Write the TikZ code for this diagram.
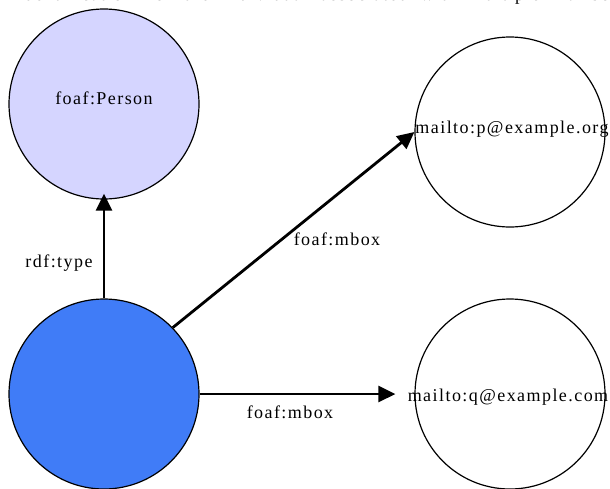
\documentclass[tikz,border=0pt]{standalone}
\usepackage{fontspec}
\setmainfont{Liberation Serif}[LetterSpace=8]
\usetikzlibrary{arrows.meta}
\definecolor{personfill}{RGB}{213,213,255}
\definecolor{subjectblue}{RGB}{64,124,247}
\begin{document}
\begin{tikzpicture}[x=1pt,y=-1pt,
  res/.style={circle,draw=black,line width=1.2pt,minimum size=190pt,inner sep=0pt},
  lbl/.style={font=\fontsize{18pt}{21pt}\selectfont,inner sep=0pt},
  rel/.style={line width=2.8pt,-{Triangle[length=17pt,width=16pt]}}]
\useasboundingbox (0,0) rectangle (610,488);
\clip (0,0) rectangle (610,488);
\fill[white] (0,0) rectangle (610,488);

% running text line above the graph
\node[lbl,anchor=base west] (topline) at (18,0)
  {\makebox[620pt][s]{identification" of the individual associated with multiple mailboxes}};

% resources
\node[res,fill=personfill] (person) at (104,104) {};
\node[res,fill=subjectblue] (subj) at (104,394) {};
\node[res] (p) at (510,132) {};
\node[res] (q) at (510,394) {};

\node[lbl] (personlabel) at (104,98) {foaf:Person};
\node[lbl] (plabel) at (512,129) {mailto:p@example.org};
\node[lbl] (qlabel) at (508,397) {mailto:q@example.com};

% properties
\draw[rel] (subj.north) -- ([yshift=6pt]person.south);
\draw[rel] (subj.44) -- (p.west);
\draw[rel] (subj.east) -- ([xshift=-19pt]q.west);

\node[lbl] (typelabel) at (59,263) {rdf:type};
\node[lbl] (mboxp) at (337,239) {foaf:mbox};
\node[lbl] (mboxq) at (290,412) {foaf:mbox};
\end{tikzpicture}
\end{document}
